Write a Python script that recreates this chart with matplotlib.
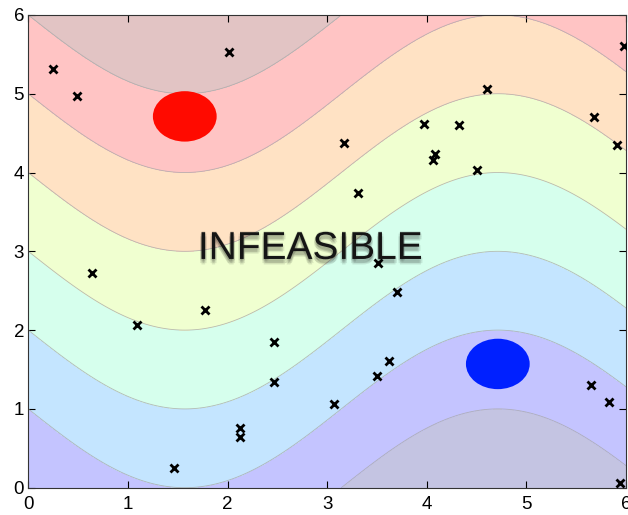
import numpy as np
import matplotlib
matplotlib.use("Agg")
import matplotlib.pyplot as plt
from matplotlib.patches import Circle
import matplotlib.patheffects as pe

# ---- data ----
levels = [-2, 0, 1, 2, 3, 4, 5, 6, 8]
pts_x = [0.245, 0.492, 2.018, 0.637, 1.088, 1.771, 2.464, 2.467, 2.126, 2.126,
         1.46, 3.167, 3.313, 3.976, 4.086, 4.063, 4.324, 4.508, 4.605, 5.677,
         5.911, 5.981, 3.508, 3.699, 3.618, 3.504, 3.072, 5.647, 5.833, 5.938]
pts_y = [5.31, 4.97, 5.53, 2.72, 2.07, 2.26, 1.85, 1.34, 0.754, 0.64,
         0.25, 4.37, 3.74, 4.62, 4.23, 4.16, 4.60, 4.03, 5.06, 4.70,
         4.35, 5.61, 2.855, 2.48, 1.61, 1.42, 1.06, 1.30, 1.09, 0.056]
circle_x = [np.pi / 2, 3 * np.pi / 2]
circle_y = [3 * np.pi / 2, np.pi / 2]
circle_colors = ['#ff0a00', '#0020ff']
circle_r = 0.32
label_text = "INFEASIBLE"
band_base = [(0, 0, 0.5), (0, 0, 1), (0, 0.55, 1), (0.3, 1, 0.7),
             (0.75, 1, 0.2), (1, 0.5, 0), (1, 0, 0), (0.5, 0, 0)]

plt.rcParams['font.family'] = ['Liberation Sans', 'DejaVu Sans']

fig = plt.figure(figsize=(6.28, 5.15), dpi=100)
ax = fig.add_axes([0.045, 0.053, 0.952, 0.918])

xs = np.linspace(0, 6, 400)
ys = np.linspace(0, 6, 400)
X, Y = np.meshgrid(xs, ys)
F = Y + np.sin(X)

alpha = 0.23
cols = [(1 - alpha + alpha * r, 1 - alpha + alpha * g, 1 - alpha + alpha * b)
        for r, g, b in band_base]
ax.contourf(X, Y, F, levels=levels, colors=cols)
ax.contour(X, Y, F, levels=levels[1:-1], colors='#a8a8a8', linewidths=0.6, alpha=0.8)

for cx, cy, cc in zip(circle_x, circle_y, circle_colors):
    ax.add_patch(Circle((cx, cy), circle_r, facecolor=cc, edgecolor='none', zorder=3))

ax.plot(pts_x, pts_y, linestyle='none', marker='x', color='black',
        markersize=5.5, markeredgewidth=2, zorder=4)

t = ax.text(2.83, 3.03, label_text, ha='center', va='center', fontsize=28,
            color='#151515', zorder=5)
shadow = []
for dx, dy in [(-1, -1), (1, -1), (0, -2), (-1, -3), (1, -3), (0, -4), (0, 0.8)]:
    shadow.append(pe.SimplePatchShadow(offset=(dx, dy), shadow_rgbFace='black', alpha=0.09))
shadow.append(pe.Normal())
t.set_path_effects(shadow)

ax.set_xlim(0, 6)
ax.set_ylim(0, 6)
ax.set_xticks(range(7))
ax.set_yticks(range(7))
ax.tick_params(direction='in', top=True, right=True, length=5, width=0.8,
               labelsize=13.5, colors='black')
ax.tick_params(axis='x', pad=6)
ax.tick_params(axis='y', pad=3)
for s in ax.spines.values():
    s.set_linewidth(0.8)
    s.set_color('#333333')

fig.savefig('out.png', dpi=100)
